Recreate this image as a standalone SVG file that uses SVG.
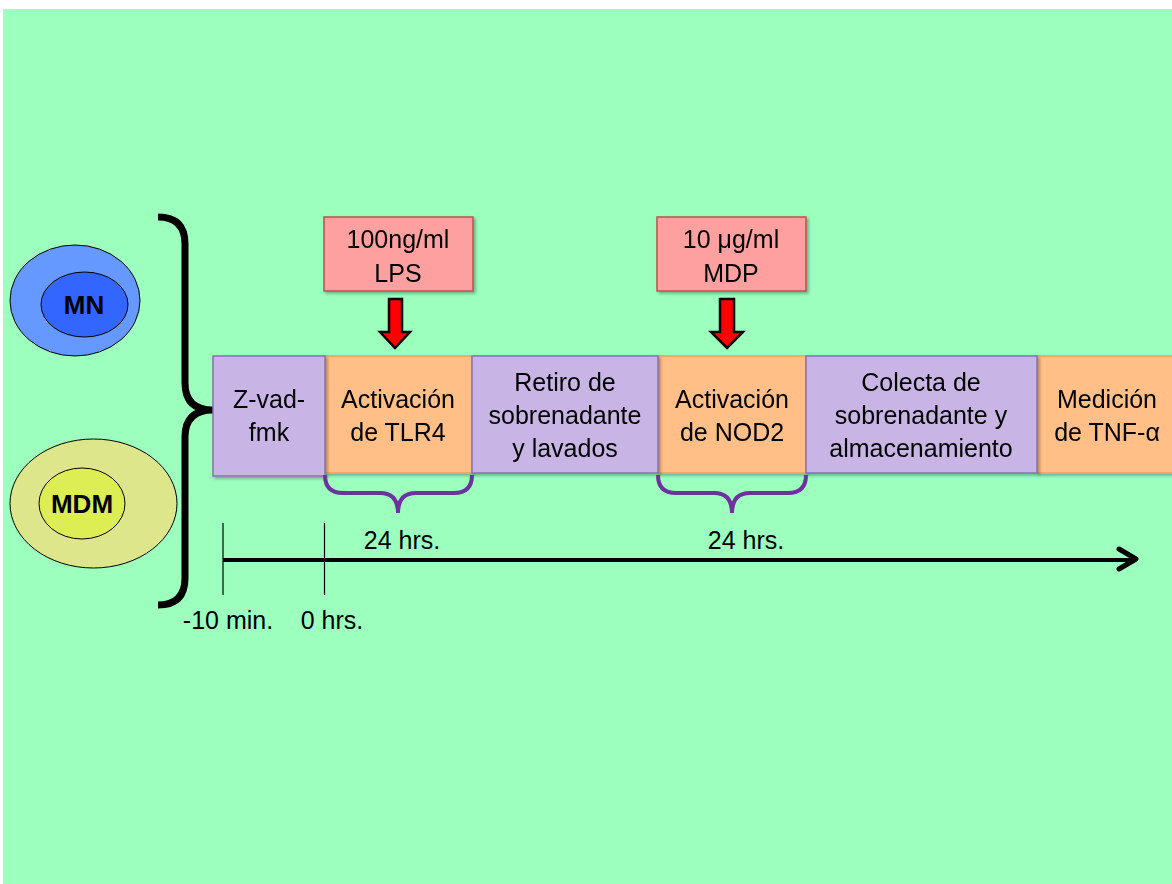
<svg xmlns="http://www.w3.org/2000/svg" width="1172" height="884" viewBox="0 0 1172 884">
<style>
.t{font-family:"Liberation Sans",Arial,sans-serif;font-size:25px;fill:#000;text-anchor:middle}
.tb{font-family:"Liberation Sans",Arial,sans-serif;font-size:26px;font-weight:bold;fill:#000;text-anchor:middle}
.or{fill:#FFBF86;stroke:#F0A060;stroke-width:1.5}
.pu{fill:#C8B5E6;stroke:#8A6FB0;stroke-width:1.5}
.pk{fill:#FFA0A0;stroke:#C0504D;stroke-width:1.5}
.ra{fill:#FF0000;stroke:#000;stroke-width:2.5;stroke-linejoin:miter}
.br{fill:none;stroke:#7030A0;stroke-width:4}
</style>
<defs>
<filter id="sh" x="-10%" y="-10%" width="130%" height="130%">
<feDropShadow dx="2" dy="2" stdDeviation="1.5" flood-color="#000" flood-opacity="0.3"/>
</filter>
</defs>
<rect x="3" y="9" width="1169" height="875" fill="#9CFFBE"/>
<g id="MN">
<ellipse cx="75" cy="300.5" rx="65" ry="55.5" fill="#6699FF" stroke="#000" stroke-width="1"/>
<ellipse cx="84.5" cy="304.5" rx="43.5" ry="32.5" fill="#3366FF" stroke="#000" stroke-width="1"/>
<text class="tb" x="84" y="314">MN</text>
</g>
<g id="MDM">
<ellipse cx="93.5" cy="503.5" rx="83.5" ry="64.5" fill="#DDE68A" stroke="#000" stroke-width="1"/>
<ellipse cx="82" cy="503.5" rx="43" ry="35.5" fill="#DDEE55" stroke="#000" stroke-width="1"/>
<text class="tb" x="82" y="513">MDM</text>
</g>
<g id="brace">
<path d="M158,217 Q185,217 185,244 L185,383 Q185,410 213,410 Q185,410 185,437 L185,578 Q185,605 158,605" fill="none" stroke="#000" stroke-width="7"/>
</g>
<g id="tlr4" filter="url(#sh)">
<rect class="or" x="325" y="356" width="147" height="117"/>
<text class="t" x="398" y="408">Activación</text>
<text class="t" x="398" y="441">de TLR4</text>
</g>
<g id="zvad" filter="url(#sh)">
<rect class="pu" x="213" y="356" width="112" height="120"/>
<text class="t" x="269" y="408">Z-vad-</text>
<text class="t" x="269" y="441">fmk</text>
</g>
<g id="nod2" filter="url(#sh)">
<rect class="or" x="658" y="356" width="148" height="117"/>
<text class="t" x="732" y="408">Activación</text>
<text class="t" x="732" y="441">de NOD2</text>
</g>
<g id="retiro" filter="url(#sh)">
<rect class="pu" x="472" y="356" width="186" height="117"/>
<text class="t" x="565" y="391">Retiro de</text>
<text class="t" x="565" y="424">sobrenadante</text>
<text class="t" x="565" y="457">y lavados</text>
</g>
<g id="medicion" filter="url(#sh)">
<rect class="or" x="1037" y="356" width="140" height="117"/>
<text class="t" x="1107" y="408">Medición</text>
<text class="t" x="1107" y="441">de TNF-α</text>
</g>
<g id="colecta" filter="url(#sh)">
<rect class="pu" x="806" y="356" width="231" height="117"/>
<text class="t" x="921" y="391">Colecta de</text>
<text class="t" x="921" y="424">sobrenadante y</text>
<text class="t" x="921" y="457">almacenamiento</text>
</g>
<g id="lps" filter="url(#sh)">
<rect class="pk" x="324" y="217" width="149" height="74"/>
<text class="t" x="398" y="248">100ng/ml</text>
<text class="t" x="398" y="282">LPS</text>
</g>
<g id="mdp" filter="url(#sh)">
<rect class="pk" x="657" y="217" width="149" height="74"/>
<text class="t" x="731" y="248">10 μg/ml</text>
<text class="t" x="731" y="282">MDP</text>
</g>
<g id="connectors">
<path class="ra" d="M389,299 L402,299 L402,332 L410,332 L395,348 L380,332 L389,332 Z"/>
<path class="ra" d="M720,299 L734,299 L734,332 L743,332 L727,348 L711,332 L720,332 Z"/>
<path class="br" d="M325,475 Q325,493 343,493 L380,493 Q398,493 398,513 Q398,493 416,493 L454,493 Q472,493 472,475"/>
<path class="br" d="M658,475 Q658,493 676,493 L714,493 Q732,493 732,513 Q732,493 750,493 L788,493 Q806,493 806,475"/>
<line x1="223" y1="560" x2="1134" y2="560" stroke="#000" stroke-width="4"/>
<polyline points="1119,549 1136,559 1119,569" fill="none" stroke="#000" stroke-width="5" stroke-linecap="round" stroke-linejoin="round"/>
<line x1="223" y1="523" x2="223" y2="595" stroke="#000" stroke-width="1.2"/>
<line x1="324.5" y1="523" x2="324.5" y2="595" stroke="#000" stroke-width="1.2"/>
</g>
<g id="labels">
<text class="t" x="402" y="549">24 hrs.</text>
<text class="t" x="746" y="549">24 hrs.</text>
<text class="t" x="228" y="629">-10 min.</text>
<text class="t" x="332" y="629">0 hrs.</text>
</g>
</svg>
